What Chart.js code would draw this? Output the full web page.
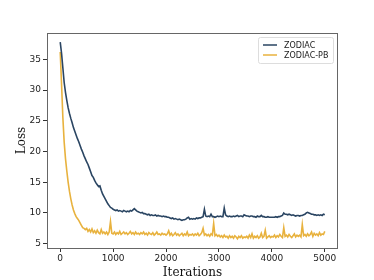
<!DOCTYPE html>
<html>
<head>
<meta charset="utf-8">
<script src="https://cdn.jsdelivr.net/npm/chart.js@4"></script>
<style>
html,body{margin:0;padding:0;background:#fff;}
#wrap{width:374px;height:280px;}
</style>
</head>
<body>
<div id="wrap"><canvas id="c" width="374" height="280"></canvas></div>
<script>
const STEP = 25;
const zodiac = [
37.8,36.0,33.6,31.2,29.6,28.3,27.1,26.2,25.4,24.7,23.9,23.3,22.7,22.1,21.6,21.0,20.4,19.9,19.3,18.8,18.3,17.9,17.3,16.7,16.1,15.8,15.3,14.9,14.6,14.3,14.4,13.7,13.1,12.7,12.3,11.9,11.5,11.2,10.9,10.8,10.6,
10.5,10.4,10.5,10.3,10.4,10.3,10.2,10.4,10.3,10.2,10.3,10.2,10.4,10.3,10.5,10.7,10.5,10.3,10.2,10.1,
10.0,10.1,9.9,9.9,9.8,9.7,9.8,9.6,9.7,9.6,9.6,9.7,9.5,9.6,9.5,9.5,9.4,9.5,9.4,9.4,
9.3,9.3,9.2,9.1,9.2,9.0,9.1,9.0,8.9,9.0,8.9,8.8,8.9,8.9,9.0,9.2,9.3,9.0,9.1,9.0,
9.1,9.0,9.2,9.1,9.2,9.2,9.3,9.4,10.6,9.5,9.4,9.5,9.4,9.8,9.4,9.4,9.3,9.4,9.5,9.4,
9.5,9.4,9.4,10.8,9.7,9.5,9.4,9.5,9.4,9.4,9.5,9.4,9.5,9.6,9.4,9.5,9.5,9.4,9.7,9.6,
9.5,9.5,9.4,9.5,9.5,9.4,9.4,9.3,9.5,9.4,9.4,9.6,9.4,9.4,9.3,9.3,9.4,9.3,9.3,9.3,
9.3,9.3,9.4,9.3,9.4,9.4,9.5,9.6,10.0,9.8,9.8,9.7,9.8,9.7,9.6,9.7,9.6,9.5,9.6,9.6,
9.5,9.6,9.6,9.7,9.8,10.0,10.1,10.0,9.9,9.8,9.8,9.7,9.7,9.6,9.7,9.6,9.7,9.6,9.8,9.7
];
const zodiacPB = [
36.2,31.0,25.5,21.5,18.8,16.8,15.0,13.5,12.3,11.3,10.5,9.9,9.4,9.1,8.8,8.4,8.0,7.6,7.5,7.3,7.5,7.0,7.3,6.9,7.4,6.8,7.1,6.7,7.2,6.8,6.6,7.3,6.7,6.9,6.6,6.9,6.5,6.9,8.6,6.7,6.6,
6.9,6.5,6.8,6.6,7.0,6.5,6.7,6.9,6.6,6.8,6.5,6.7,7.0,6.6,6.8,6.5,6.9,6.6,6.7,6.5,
6.8,6.6,6.9,6.5,6.7,6.4,6.8,6.6,6.5,6.8,6.4,6.6,6.9,6.5,6.6,6.4,6.7,6.5,6.6,6.4,
6.6,7.1,6.4,6.7,6.3,6.5,6.8,6.4,6.6,6.3,6.5,6.7,6.3,6.6,6.4,6.9,6.3,6.5,6.4,6.6,
6.3,6.6,6.4,6.7,6.3,6.5,6.8,7.5,6.4,6.6,6.3,6.5,6.2,6.6,6.4,8.3,6.3,6.5,6.2,6.4,
6.1,6.3,6.0,6.4,6.1,6.2,5.9,6.3,6.0,6.2,5.9,6.3,6.1,5.8,6.2,6.0,6.3,5.9,6.1,6.0,
6.2,5.9,6.4,6.0,6.6,5.9,6.2,6.0,6.3,5.9,6.1,6.7,6.0,6.2,7.2,5.9,6.1,6.3,6.0,6.2,
6.1,6.4,6.0,6.3,6.1,6.5,6.2,6.0,7.6,6.2,6.4,6.1,6.5,6.2,6.0,6.3,6.6,6.1,6.4,6.2,
6.4,6.1,8.1,6.3,6.5,6.2,6.6,6.3,6.5,6.9,6.2,6.7,6.4,6.6,6.3,6.8,6.4,6.6,6.5,7.0
];
const iterations = zodiac.map((_, i) => i * STEP);
const xTicks = [0, 1000, 2000, 3000, 4000, 5000];
const yTicks = [5, 10, 15, 20, 25, 30, 35];
const seriesNames = ['ZODIAC', 'ZODIAC-PB'];
const colors = ['#2a4562', '#e8b23e'];

const framePlugin = {
  id: 'frame',
  afterDraw(chart) {
    const {ctx, chartArea: a} = chart;
    ctx.save();
    ctx.strokeStyle = '#666';
    ctx.lineWidth = 1;
    ctx.strokeRect(Math.round(a.left) + 0.5, Math.round(a.top) + 0.5, Math.round(a.right - a.left) - 1, Math.round(a.bottom - a.top));
    // legend
    const bx = a.right - 80, by = a.top + 4, bw = 75, bh = 26;
    ctx.fillStyle = 'rgba(255,255,255,0.85)';
    ctx.strokeStyle = '#ddd';
    ctx.beginPath();
    ctx.roundRect(bx + 0.5, by + 0.5, bw, bh, 2);
    ctx.fill(); ctx.stroke();
    ctx.font = '8px "DejaVu Sans"';
    ctx.textBaseline = 'middle';
    chart.data.datasets.forEach((ds, i) => {
      const y = by + 8 + i * 10;
      ctx.strokeStyle = ds.borderColor;
      ctx.lineWidth = 1.5;
      ctx.beginPath();
      ctx.moveTo(bx + 5, y); ctx.lineTo(bx + 19, y); ctx.stroke();
      ctx.fillStyle = '#222';
      ctx.fillText(ds.label, bx + 26, y + 0.5);
    });
    ctx.restore();
  }
};

new Chart(document.getElementById('c'), {
  type: 'line',
  data: {
    datasets: [
      { label: seriesNames[0], data: iterations.map((x, i) => ({x, y: zodiac[i]})), borderColor: colors[0], borderWidth: 1.6, pointRadius: 0, tension: 0 },
      { label: seriesNames[1], data: iterations.map((x, i) => ({x, y: zodiacPB[i]})), borderColor: colors[1], borderWidth: 1.6, pointRadius: 0, tension: 0 }
    ]
  },
  options: {
    responsive: false,
    animation: false,
    layout: { padding: { left: 15, right: 36, top: 33, bottom: 0 } },
    plugins: { legend: { display: false }, tooltip: { enabled: false } },
    scales: {
      x: {
        type: 'linear', min: -250, max: 5250,
        afterBuildTicks: s => { s.ticks = xTicks.map(v => ({value: v})); },
        afterFit: s => { s.height = 32; },
        grid: { drawOnChartArea: false, drawTicks: true, tickLength: 4, color: '#333' },
        border: { display: false },
        ticks: { color: '#222', font: { family: 'DejaVu Sans', size: 9 }, padding: 1, maxRotation: 0, callback: v => String(v) },
        title: { display: true, text: 'Iterations', color: '#111', font: { family: 'DejaVu Serif', size: 12 }, padding: { top: 0, bottom: 0 } }
      },
      y: {
        type: 'linear', min: 4.3, max: 39.3,
        afterBuildTicks: s => { s.ticks = yTicks.map(v => ({value: v})); },
        afterFit: s => { s.width = 32; },
        grid: { drawOnChartArea: false, drawTicks: true, tickLength: 4, color: '#333' },
        border: { display: false },
        ticks: { color: '#222', font: { family: 'DejaVu Sans', size: 9 }, padding: 2, callback: v => String(v) },
        title: { display: true, text: 'Loss', color: '#111', font: { family: 'DejaVu Serif', size: 12 }, padding: { top: 0, bottom: 0 } }
      }
    }
  },
  plugins: [framePlugin]
});
</script>
</body>
</html>
